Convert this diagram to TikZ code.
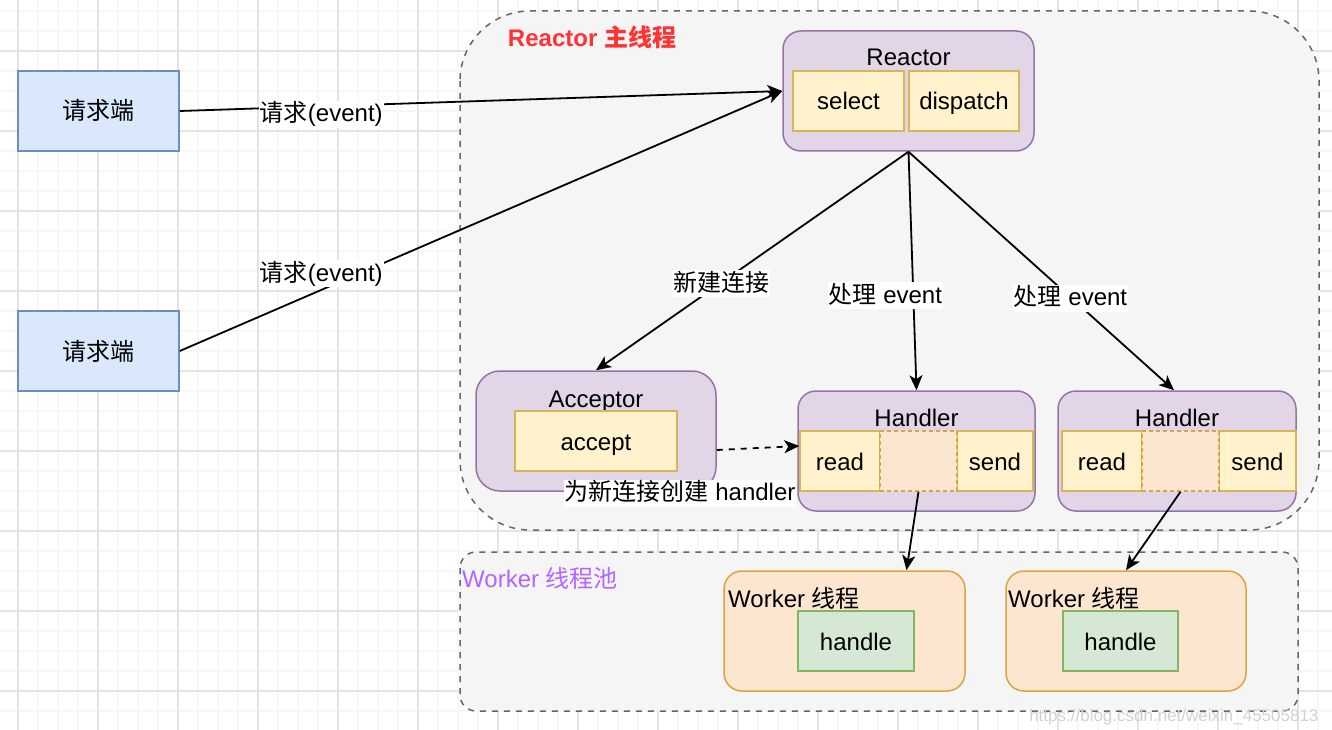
\documentclass[tikz,border=0pt]{standalone}
\usepackage{fontspec}
\setmainfont{Liberation Sans}
\newfontfamily\cjk{Noto Sans CJK SC}
\newcommand\zh[1]{{\cjk #1}}
\usetikzlibrary{arrows.meta}

\definecolor{gridmin}{HTML}{F7F7F7}
\definecolor{gridmaj}{HTML}{E4E4E4}
\definecolor{zonefill}{HTML}{F5F5F5}
\definecolor{zoneline}{HTML}{666666}
\definecolor{clientfill}{HTML}{DAE8FC}
\definecolor{clientline}{HTML}{6C8EBF}
\definecolor{procfill}{HTML}{E1D5E7}
\definecolor{procline}{HTML}{9673A6}
\definecolor{partfill}{HTML}{FFF2CC}
\definecolor{partline}{HTML}{D6B656}
\definecolor{workfill}{HTML}{FCE6D0}
\definecolor{workline}{HTML}{D9A441}
\definecolor{taskfill}{HTML}{D5E8D4}
\definecolor{taskline}{HTML}{82B366}
\definecolor{reactred}{HTML}{FF3333}
\definecolor{poolpurple}{HTML}{B266FF}

\tikzset{
  every node/.style={text height=20pt, text depth=2pt},
  client/.style={draw=clientline, fill=clientfill, line width=1.5pt, minimum width=161pt, minimum height=80pt, inner sep=0pt},
  proc/.style={draw=procline, fill=procfill, line width=1.5pt, rounded corners=18pt, minimum height=120pt, inner sep=0pt},
  part/.style={draw=partline, fill=partfill, line width=1.5pt, minimum height=60pt, inner sep=0pt},
  slot/.style={part, draw=workline, fill=workfill, dash pattern=on 4pt off 3pt},
  worker/.style={draw=workline, fill=workfill, line width=1.5pt, rounded corners=18pt, minimum width=241pt, minimum height=120pt, inner sep=0pt},
  task/.style={draw=taskline, fill=taskfill, line width=1.5pt, minimum height=60pt, inner sep=0pt},
  zone/.style={draw=zoneline, fill=zonefill, line width=1.5pt, dash pattern=on 6pt off 6pt},
  flow/.style={line width=1.8pt, -{Stealth[length=15pt,width=13pt,inset=4pt]}},
  tag/.style={fill=white, inner sep=1pt, text depth=5pt},
}

\begin{document}
\begin{tikzpicture}[x=1pt, y=-1pt, font=\fontsize{24}{28}\selectfont]
  \useasboundingbox (0,0) rectangle (1332,730);
  \fill[white] (0,0) rectangle (1332,730);
  % grid paper
  \foreach \gx in {-2,18,...,1338} \draw[gridmin, line width=2pt] (\gx,0) -- (\gx,730);
  \foreach \gy in {11,31,...,731} \draw[gridmin, line width=2pt] (0,\gy) -- (1332,\gy);
  \foreach \gx in {18,98,...,1338} \draw[gridmaj, line width=2pt] (\gx,0) -- (\gx,730);
  \foreach \gy in {51,131,...,691} \draw[gridmaj, line width=2pt] (0,\gy) -- (1332,\gy);

  % thread areas
  \draw[zone, rounded corners=70pt] (460,11) rectangle (1319,530);
  \node[font=\bfseries\fontsize{24}{28}\selectfont, text=reactred] (maintitle) at (592,38) {Reactor \zh{主线程}};
  \draw[zone, rounded corners=16pt] (460,552) rectangle (1298,711);
  \node[text=poolpurple, anchor=west, inner sep=0pt] (pooltitle) at (462,578) {Worker \zh{线程池}};

  % clients
  \node[client] (req1) at (98.5,111) {\zh{请求端}};
  \node[client] (req2) at (98.5,351) {\zh{请求端}};

  % reactor
  \node[proc, minimum width=251pt] (reactor) at (908.5,91) {};
  \node (reactortitle) at (908.5,57) {Reactor};
  \node[part, minimum width=111pt] (select) at (848.5,101) {select};
  \node[part, minimum width=110pt] (dispatch) at (964,101) {dispatch};

  % acceptor
  \node[proc, rounded corners=24pt, minimum width=240pt] (acceptor) at (596,431) {};
  \node (acceptortitle) at (596,398) {Acceptor};
  \node[part, minimum width=162pt] (accept) at (596,441) {accept};

  % handlers
  \node[proc, minimum width=237pt] (handlerA) at (916.5,451) {};
  \node (handlerAtitle) at (916.5,417) {Handler};
  \node[part, minimum width=80pt] (readA) at (840,461) {read};
  \node[part, minimum width=76pt] (sendA) at (995,461) {send};
  \node[slot, minimum width=77pt] (slotA) at (918.5,461) {};

  \node[proc, minimum width=238pt] (handlerB) at (1177,451) {};
  \node (handlerBtitle) at (1177,417) {Handler};
  \node[part, minimum width=80pt] (readB) at (1102,461) {read};
  \node[part, minimum width=77pt] (sendB) at (1257.5,461) {send};
  \node[slot, minimum width=77pt] (slotB) at (1180.5,461) {};

  % workers
  \node[worker] (workerA) at (844.5,631) {};
  \node[anchor=west, inner sep=0pt] (workerAtitle) at (728,598) {Worker \zh{线程}};
  \node[task, minimum width=116pt] (handleA) at (856,641) {handle};
  \node[worker, minimum width=240pt] (workerB) at (1126,631) {};
  \node[anchor=west, inner sep=0pt] (workerBtitle) at (1008,598) {Worker \zh{线程}};
  \node[task, minimum width=115pt] (handleB) at (1120.5,641) {handle};

  % connectors
  \draw[flow] (req1.east) -- (reactor.west) node[tag, pos=.235, yshift=-8pt] (lblreqA) {\zh{请求}(event)};
  \draw[flow] (req2.east) -- (reactor.west) node[tag, pos=.235, yshift=16pt] (lblreqB) {\zh{请求}(event)};
  \draw[flow] (reactor.south) -- (acceptor.north) node[tag, pos=.6, yshift=-1pt] (lblnew) {\zh{新建连接}};
  \draw[flow] (reactor.south) -- (handlerA.north) node[tag, pos=.6, xshift=-28pt, yshift=-1pt] (lblevA) {\zh{处理} event};
  \draw[flow] (reactor.south) -- ([xshift=-3pt]handlerB.north) node[tag, pos=.61, yshift=-1pt] (lblevB) {\zh{处理} event};
  \draw[flow, dash pattern=on 6pt off 6pt] ([yshift=-19pt]acceptor.east) -- ([yshift=15pt]readA.west);
  \node[tag] (lblcreate) at (680,493) {\zh{为新连接创建} handler};
  \draw[flow] (slotA.south) -- ([xshift=62pt]workerA.north);
  \draw[flow] (slotB.south) -- (workerB.north);

  % watermark
  \node[text=gray!35, font=\fontsize{17}{20}\selectfont, anchor=east] (mark) at (1322,712) {https://blog.csdn.net/weixin\_45505813};
\end{tikzpicture}
\end{document}
